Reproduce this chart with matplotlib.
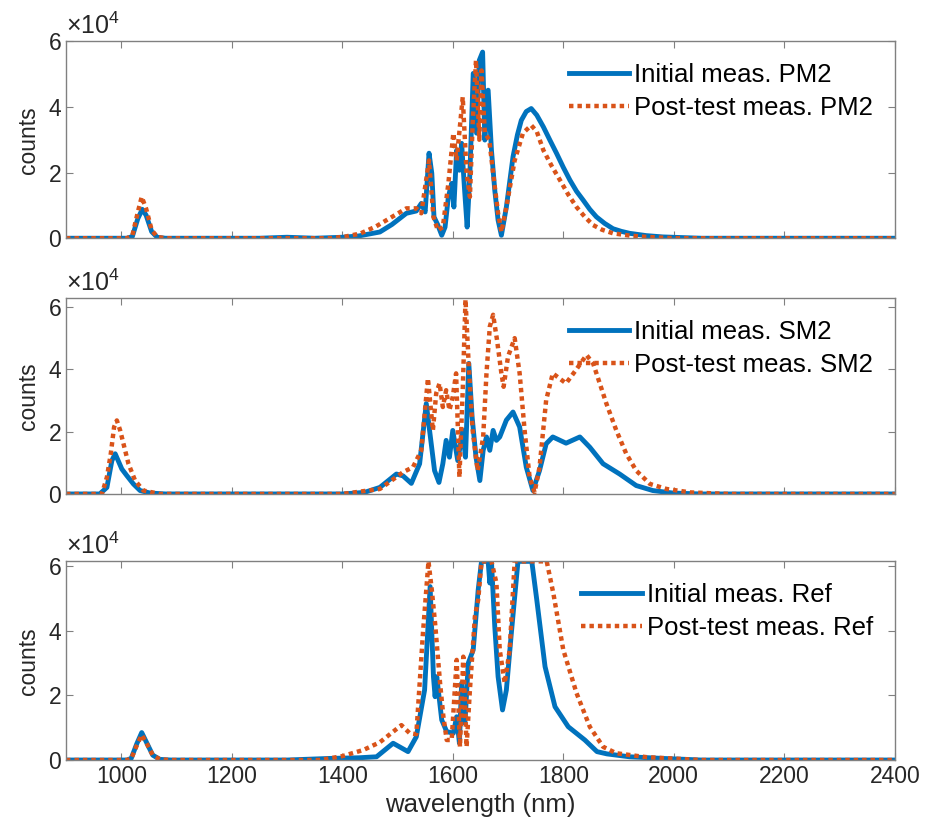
import numpy as np
import matplotlib.pyplot as plt

BLUE = '#0072BD'
ORANGE = '#D95319'

# ---- top panel: PM2 ----
pm2_init_wl = [900, 1010, 1020, 1030, 1038, 1045, 1055, 1065, 1080, 1250, 1300, 1350, 1400,
               1430, 1468, 1490, 1516, 1534, 1543, 1550, 1557, 1562, 1566, 1573, 1580, 1586,
               1592, 1598, 1602, 1607, 1612, 1616, 1621, 1626, 1631, 1637, 1643, 1648, 1654,
               1658, 1664, 1670, 1676, 1682, 1688, 1697, 1709, 1717, 1724, 1733, 1742, 1752,
               1764, 1776, 1788, 1800, 1812, 1824, 1836, 1848, 1860, 1875, 1890, 1905, 1920,
               1950, 1980, 2050, 2400]
pm2_init = [0, 0, 500, 6000, 8800, 7000, 2000, 300, 0, 0, 300, 0, 300,
            700, 1900, 4200, 7600, 8300, 10600, 8000, 25900, 19800, 6500, 4000, 900, 3400,
            12600, 16700, 9500, 26800, 20700, 28900, 15600, 3400, 19800, 50200, 32000, 54200, 56700,
            29900, 45100, 26800, 14600, 5500, 900, 9500, 24800, 31500, 35900, 38600, 39500, 37500,
            33900, 29800, 25800, 21600, 17700, 14300, 11600, 8800, 6500, 4500, 2900, 2100, 1500,
            800, 400, 0, 0]

pm2_post_wl = [900, 1010, 1020, 1030, 1037, 1045, 1055, 1065, 1080, 1380, 1405, 1432, 1460,
               1480, 1500, 1516, 1534, 1543, 1557, 1565, 1573, 1582, 1592, 1601, 1607, 1618,
               1625, 1631, 1636, 1642, 1648, 1652, 1658, 1666, 1673, 1682, 1688, 1697, 1712,
               1727, 1742, 1752, 1764, 1779, 1794, 1809, 1824, 1839, 1854, 1870, 1890, 1920,
               1950, 2000, 2400]
pm2_post = [0, 0, 800, 8000, 12600, 9000, 2500, 400, 0, 0, 500, 1400, 3500,
            5500, 7500, 9100, 9100, 7600, 23700, 6500, 2400, 3400, 16700, 32000, 23700, 43000,
            19800, 12600, 34900, 54200, 30000, 51100, 32000, 30000, 19800, 7600, 1900, 9500, 23700,
            32000, 34400, 32500, 26800, 22000, 17700, 13300, 9500, 6500, 4000, 2600, 1500, 800,
            400, 0, 0]

# ---- middle panel: SM2 ----
sm2_init_wl = [900, 961, 974, 983, 989, 1001, 1010, 1022, 1034, 1052, 1080, 1400, 1440,
               1468, 1498, 1510, 1525, 1540, 1552, 1558, 1567, 1575, 1582, 1588, 1594, 1600,
               1609, 1618, 1623, 1629, 1635, 1642, 1649, 1655, 1661, 1667, 1673, 1679, 1685,
               1697, 1709, 1721, 1733, 1745, 1757, 1769, 1781, 1805, 1830, 1848, 1872, 1902,
               1932, 1962, 1998, 2050, 2400]
sm2_init = [0, 0, 2100, 10700, 12900, 8000, 5900, 3200, 1100, 300, 0, 0, 500,
            2100, 6400, 5800, 3400, 9700, 29000, 20400, 7500, 3700, 9700, 17200, 11800, 20400,
            10700, 20400, 11800, 41900, 24700, 11800, 4300, 14000, 18300, 14000, 20400, 17200, 18300,
            23700, 26300, 21500, 8600, 1100, 7500, 16100, 18300, 16300, 18300, 15000, 9700, 6400,
            2700, 1100, 300, 0, 0]

sm2_post_wl = [900, 965, 974, 981, 987, 992, 998, 1004, 1013, 1025, 1040, 1070, 1400,
               1468, 1510, 1528, 1543, 1555, 1564, 1570, 1576, 1582, 1588, 1594, 1600, 1606,
               1612, 1618, 1623, 1629, 1636, 1645, 1655, 1661, 1667, 1673, 1680, 1688, 1692,
               1700, 1712, 1721, 1730, 1739, 1748, 1757, 1769, 1781, 1805, 1823, 1842, 1854,
               1866, 1878, 1896, 1914, 1932, 1957, 1987, 2030, 2100, 2400]
sm2_post = [0, 0, 5400, 12900, 21500, 23600, 20400, 16100, 9700, 4300, 1100, 0, 0,
            1600, 7000, 8600, 14000, 37100, 20400, 32300, 35500, 27900, 33300, 26900, 31200, 38700,
            5400, 33300, 62400, 40800, 20400, 7500, 18300, 38700, 53700, 57500, 49500, 38700, 34400,
            44100, 50000, 38700, 20400, 5400, 500, 8600, 30100, 38700, 35500, 39800, 44600, 41900,
            35500, 29000, 20400, 12900, 7500, 3200, 1600, 500, 0, 0]

# ---- bottom panel: Ref ----
ref_init_wl = [900, 1010, 1018, 1028, 1037, 1047, 1057, 1070, 1090, 1300, 1378, 1430, 1462,
               1492, 1519, 1534, 1549, 1559, 1565, 1568, 1571, 1580, 1589, 1601, 1607, 1612,
               1616, 1622, 1628, 1637, 1646, 1652, 1664, 1667, 1670, 1676, 1682, 1690, 1697,
               1706, 1718, 1743, 1752, 1767, 1785, 1809, 1839, 1861, 1879, 1920, 1980, 2050,
               2400]
ref_init = [0, 0, 500, 5000, 8500, 5000, 1500, 200, 0, 0, 500, 700, 1000,
            5200, 2600, 7200, 21700, 53700, 25800, 19600, 25800, 12400, 8800, 8300, 13400, 5200,
            23800, 11400, 30000, 34100, 52700, 61500, 61500, 54800, 61500, 41300, 25800, 15500, 21700,
            39300, 61500, 61500, 49600, 28900, 16500, 10300, 6200, 2600, 1900, 1000, 500, 0,
            0]

ref_post_wl = [900, 1010, 1018, 1028, 1037, 1047, 1057, 1070, 1090, 1360, 1400, 1438, 1468,
               1507, 1522, 1534, 1546, 1556, 1562, 1568, 1577, 1583, 1589, 1598, 1607, 1613,
               1619, 1625, 1631, 1640, 1646, 1652, 1670, 1679, 1685, 1694, 1703, 1712, 1770,
               1782, 1800, 1824, 1848, 1872, 1896, 1950, 2050, 2400]
ref_post = [0, 0, 400, 4500, 7800, 4800, 1500, 200, 0, 0, 1200, 3100, 5500,
            10800, 8300, 8000, 39300, 61500, 52700, 42300, 23800, 13400, 6200, 6200, 31000, 4100,
            32000, 4100, 21700, 44400, 49600, 61500, 61500, 54800, 34100, 23800, 34100, 61500, 61500,
            51600, 34100, 20700, 10300, 4100, 2100, 900, 0, 0]

panels = [
    (pm2_init_wl, pm2_init, pm2_post_wl, pm2_post, 'PM2', 6.0e4),
    (sm2_init_wl, sm2_init, sm2_post_wl, sm2_post, 'SM2', 6.29e4),
    (ref_init_wl, ref_init, ref_post_wl, ref_post, 'Ref', 6.15e4),
]

# axes boxes in figure fraction (left, bottom, width, height)
boxes = [
    (0.0713, 0.714, 0.895, 0.2365),
    (0.0713, 0.407, 0.895, 0.2353),
    (0.0713, 0.0876, 0.895, 0.2385),
]

plt.rcParams['font.family'] = ['Liberation Sans', 'DejaVu Sans']
plt.rcParams['mathtext.fontset'] = 'custom'
plt.rcParams['mathtext.rm'] = 'Liberation Sans'
fig = plt.figure(figsize=(9.26, 8.33), dpi=100)
txt_col = '#262626'

for i, (wl1, y1, wl2, y2, name, ytop) in enumerate(panels):
    ax = fig.add_axes(boxes[i])
    ax.plot(wl1, y1, color=BLUE, lw=3.5, label='Initial meas. ' + name)
    ax.plot(wl2, y2, color=ORANGE, lw=3.2, dashes=(1.0, 0.9),
            label='Post-test meas. ' + name)
    ax.set_xlim(900, 2400)
    ax.set_ylim(0, ytop)
    ax.set_xticks(np.arange(1000, 2401, 200))
    ax.set_yticks([0, 2e4, 4e4, 6e4])
    ax.set_yticklabels(['0', '2', '4', '6'])
    ax.tick_params(direction='in', length=5, width=0.8, colors=txt_col,
                   labelsize=16.5, top=True, right=True, color='#808080')
    for s in ax.spines.values():
        s.set_color('#808080')
        s.set_linewidth(1.0)
    if i < 2:
        ax.set_xticklabels([])
    else:
        ax.set_xlabel('wavelength (nm)', fontsize=18.5, color=txt_col, labelpad=4)
    ax.set_ylabel('counts', fontsize=16.5, color=txt_col, labelpad=6)
    ax.text(0.0, 1.01, '\u00d710$^{4}$', transform=ax.transAxes,
            fontsize=18, color=txt_col, va='bottom', ha='left')
    ax.legend(loc='upper right', frameon=False, fontsize=18.5,
              handlelength=2.35, handletextpad=0.2, labelspacing=0.35,
              borderaxespad=0.45)

fig.savefig('out.png', dpi=100)
